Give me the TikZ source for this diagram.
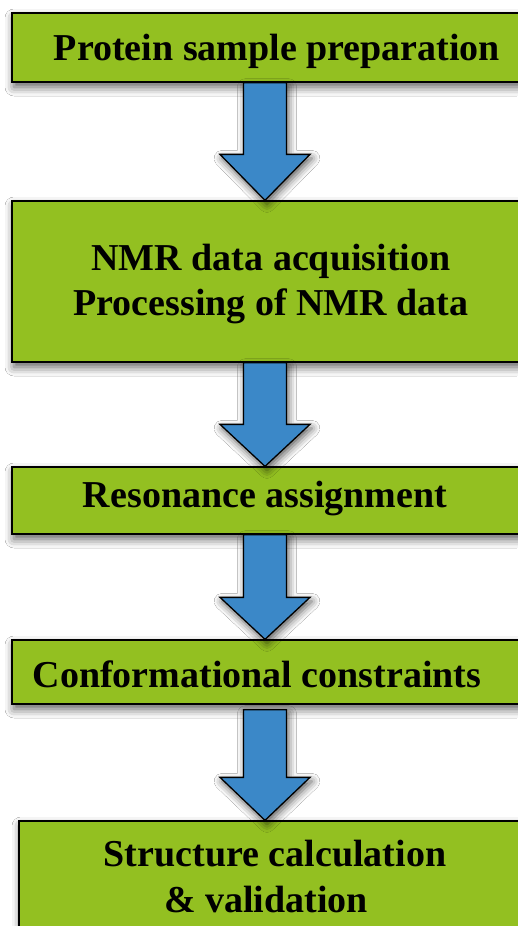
\documentclass[tikz,border=0pt]{standalone}
\usepackage{fontspec}
\setmainfont{Liberation Serif}
\usetikzlibrary{calc,shadows.blur}
\definecolor{boxgreen}{RGB}{147,192,33}
\definecolor{arrowblue}{RGB}{59,136,200}

% block arrow from the bottom of one box to the top of the next
% #1 upper box, #2 lower box, #3 gap under the upper box, #4 head length
\newcommand\flowarrow[4]{%
  \path (#1.south -| axis) coordinate (top-#1) (#2.north -| axis) coordinate (tip-#1);
  \draw[blockarrow] ($(top-#1)+(-21.5,#3)$) -- ($(top-#1)+(21.5,#3)$)
    -- ($(tip-#1)+(21.5,-#4)$) -- ($(tip-#1)+(45,-#4)$) -- (tip-#1)
    -- ($(tip-#1)+(-45,-#4)$) -- ($(tip-#1)+(-21.5,-#4)$) -- cycle;
}

\begin{document}
\begin{tikzpicture}[x=1pt,y=-1pt,
  stepbox/.style={draw=black, line width=1.3pt, fill=boxgreen,
    rectangle, inner sep=0pt,
    blur shadow={shadow xshift=2pt, shadow yshift=-5pt,
      shadow blur radius=9pt, shadow opacity=65}},
  blockarrow/.style={draw=black, line width=1.3pt, fill=arrowblue,
    line join=miter,
    blur shadow={shadow xshift=2pt, shadow yshift=-4pt,
      shadow blur radius=8pt, shadow opacity=65}},
  steptext/.style={anchor=base, inner sep=0pt,
    font=\bfseries\fontsize{38}{45}\selectfont}]

\fill[white] (0,0) rectangle (517,926);
\useasboundingbox (0,0) rectangle (517,926);

\coordinate (axis) at (265,0);

% process boxes (right edges run past the page)
\node[stepbox, minimum width=518pt, minimum height=69pt]  (b1) at (271,47.5)  {};
\node[stepbox, minimum width=518pt, minimum height=161pt] (b2) at (271,281.5) {};
\node[stepbox, minimum width=518pt, minimum height=67pt]  (b3) at (271,500.5) {};
\node[stepbox, minimum width=518pt, minimum height=64pt]  (b4) at (271,672)   {};
\node[stepbox, minimum width=511pt, minimum height=119pt] (b5) at (274.5,880.5) {};

% arrows between the steps
\flowarrow{b1}{b2}{0}{46}
\flowarrow{b2}{b3}{0}{42}
\flowarrow{b3}{b4}{0}{42}
\flowarrow{b4}{b5}{5}{43}

% step labels
\node[steptext] (t1)  at (277,60)  {Protein sample preparation};
\node[steptext] (t2a) at (271,270) {NMR data acquisition};
\node[steptext] (t2b) at (271,315) {Processing of NMR data};
\node[steptext] (t3)  at (265,507) {Resonance assignment};
\node[steptext] (t4)  at (257,687) {Conformational constraints};
\node[steptext] (t5a) at (275,866) {Structure calculation};
\node[steptext] (t5b) at (266,912) {\& validation};
\end{tikzpicture}
\end{document}
